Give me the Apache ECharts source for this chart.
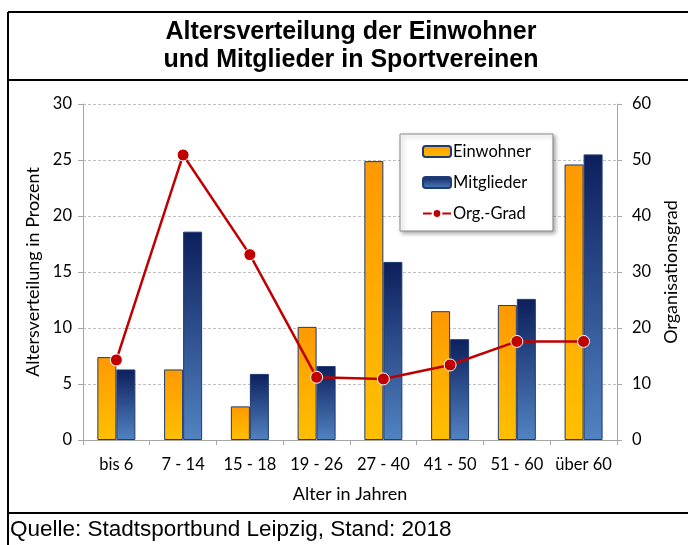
<!DOCTYPE html>
<html>
<head>
<meta charset="utf-8">
<script src="https://cdn.jsdelivr.net/npm/echarts@6/dist/echarts.min.js"></script>
<style>
  html, body { margin: 0; padding: 0; background: #fff; }
  #chart { width: 688px; height: 545px; }
</style>
</head>
<body>
<div id="chart"></div>
<script>
// Altersgruppen
var categories = ['bis 6', '7 - 14', '15 - 18', '19 - 26', '27 - 40', '41 - 50', '51 - 60', 'über 60'];
// Anteil an den Einwohnern in Prozent
var einwohner = [7.4, 6.3, 3.0, 10.1, 24.9, 11.5, 12.05, 24.6];
// Anteil an den Mitgliedern in Prozent
var mitglieder = [6.3, 18.6, 5.9, 6.6, 15.9, 9.0, 12.6, 25.5];
// Organisationsgrad (rechte Achse)
var orgGrad = [14.3, 50.9, 33.1, 11.2, 10.9, 13.4, 17.6, 17.6];

var axisFont = 'Lato, "Noto Sans", sans-serif';
var black = '#000';

var myChart = echarts.init(document.getElementById('chart'));

myChart.setOption({
  animation: false,
  textStyle: { fontFamily: axisFont },
  graphic: [
    // Rahmen
    { type: 'line', shape: { x1: 8, y1: 12, x2: 8, y2: 545 }, style: { stroke: black, lineWidth: 2 } },
    { type: 'line', shape: { x1: 8, y1: 12, x2: 688, y2: 12 }, style: { stroke: black, lineWidth: 2 } },
    { type: 'line', shape: { x1: 8, y1: 80, x2: 688, y2: 80 }, style: { stroke: black, lineWidth: 2 } },
    { type: 'line', shape: { x1: 8, y1: 513, x2: 688, y2: 513 }, style: { stroke: black, lineWidth: 2 } },
    // Titel
    {
      type: 'text', x: 351, y: 46,
      style: {
        text: 'Altersverteilung der Einwohner\nund Mitglieder in Sportvereinen',
        font: 'bold 25px "Liberation Sans", Arial, sans-serif',
        fill: black, align: 'center', verticalAlign: 'middle', lineHeight: 28
      }
    },
    // Quelle
    {
      type: 'text', x: 10, y: 530,
      style: {
        text: 'Quelle: Stadtsportbund Leipzig, Stand: 2018',
        font: '22.5px "Liberation Sans", Arial, sans-serif',
        fill: black, align: 'left', verticalAlign: 'middle'
      }
    }
  ],
  legend: {
    orient: 'vertical',
    left: 400,
    top: 134,
    padding: [9, 22, 9, 22],
    itemGap: 14,
    itemWidth: 28,
    itemHeight: 11,
    backgroundColor: '#fff',
    borderColor: '#8c8c8c',
    borderWidth: 1,
    shadowColor: 'rgba(0,0,0,0.35)',
    shadowBlur: 4,
    shadowOffsetX: 2,
    shadowOffsetY: 2,
    textStyle: { fontSize: 16.5, color: black, fontFamily: axisFont, padding: [0, 0, 0, -3] },
    data: ['Einwohner', 'Mitglieder', 'Org.-Grad']
  },
  grid: { left: 83, right: 67, top: 104, bottom: 105 },
  xAxis: {
    type: 'category',
    data: categories,
    name: 'Alter in Jahren',
    nameLocation: 'middle',
    nameGap: 45,
    nameTextStyle: { fontSize: 18, color: black },
    axisLine: { lineStyle: { color: '#a6a6a6' } },
    axisTick: { show: true, length: 5, lineStyle: { color: '#a6a6a6' } },
    axisLabel: { fontSize: 16.5, color: black, margin: 16, interval: 0 }
  },
  yAxis: [
    {
      type: 'value',
      min: 0, max: 30, interval: 5,
      name: 'Altersverteilung in Prozent',
      nameLocation: 'middle',
      nameRotate: 90,
      nameGap: 39,
      nameTextStyle: { fontSize: 18, color: black },
      axisLine: { show: true, lineStyle: { color: '#a6a6a6' } },
      axisTick: { show: true, length: 5, lineStyle: { color: '#a6a6a6' } },
      axisLabel: { fontSize: 16.5, color: black, margin: 11 },
      splitLine: { lineStyle: { color: '#bfbfbf', type: [3, 2] } }
    },
    {
      type: 'value',
      min: 0, max: 60, interval: 10,
      name: 'Organisationsgrad',
      nameLocation: 'middle',
      nameRotate: 90,
      nameGap: 40,
      nameTextStyle: { fontSize: 18, color: black },
      axisLine: { show: true, lineStyle: { color: '#a6a6a6' } },
      axisTick: { show: true, length: 5, lineStyle: { color: '#a6a6a6' } },
      axisLabel: { fontSize: 16.5, color: black, margin: 15 },
      splitLine: { show: false }
    }
  ],
  series: [
    {
      name: 'Einwohner',
      type: 'bar',
      data: einwohner,
      barWidth: 19,
      barGap: '0%',
      itemStyle: {
        borderColor: '#1f3b73',
        borderWidth: 1,
        color: new echarts.graphic.LinearGradient(0, 0, 0, 1, [
          { offset: 0, color: '#ff9900' },
          { offset: 1, color: '#ffc000' }
        ])
      }
    },
    {
      name: 'Mitglieder',
      type: 'bar',
      data: mitglieder,
      barWidth: 19,
      barGap: '0%',
      itemStyle: {
        borderColor: '#1f3b73',
        borderWidth: 1,
        color: new echarts.graphic.LinearGradient(0, 0, 0, 1, [
          { offset: 0, color: '#0c1f5c' },
          { offset: 1, color: '#5283c2' }
        ])
      }
    },
    {
      name: 'Org.-Grad',
      type: 'line',
      yAxisIndex: 1,
      data: orgGrad,
      symbol: 'circle',
      symbolSize: 12,
      lineStyle: { color: '#c00000', width: 2.5 },
      itemStyle: { color: '#c00000', borderColor: '#fff', borderWidth: 1 },
      z: 5
    }
  ]
});
</script>
</body>
</html>
